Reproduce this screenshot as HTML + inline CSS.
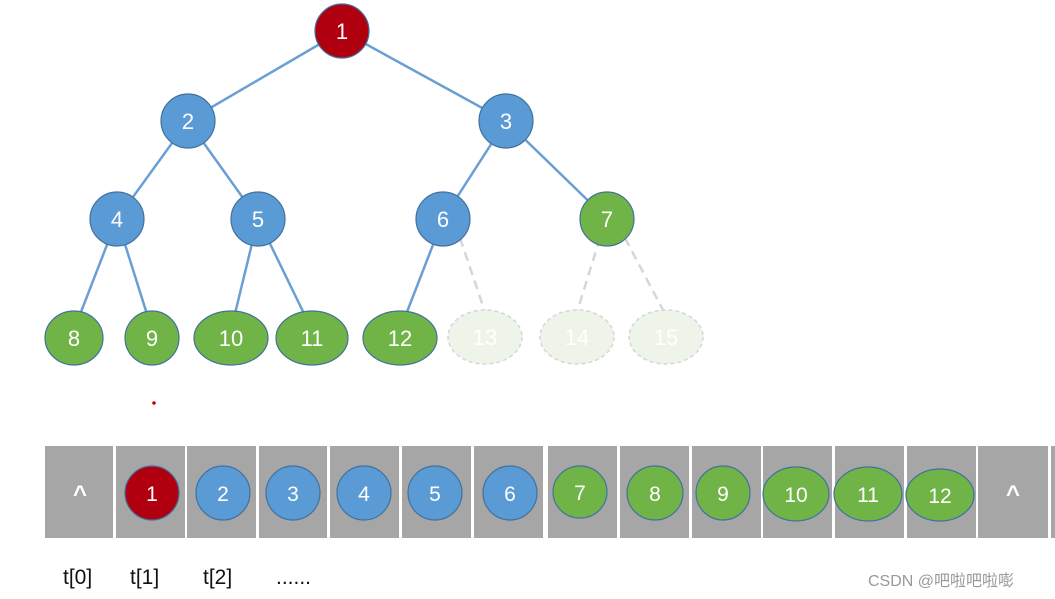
<!DOCTYPE html>
<html><head><meta charset="utf-8"><style>body{margin:0;background:#fff}svg{display:block}</style></head><body>
<svg width="1055" height="599" xmlns="http://www.w3.org/2000/svg" font-family="Liberation Sans, sans-serif">
<g stroke="#6a9fd3" stroke-width="2.5">
<line x1="342" y1="31" x2="188" y2="121"/><line x1="342" y1="31" x2="506" y2="121"/>
<line x1="188" y1="121" x2="117" y2="219"/><line x1="188" y1="121" x2="258" y2="219"/>
<line x1="506" y1="121" x2="443" y2="219"/><line x1="506" y1="121" x2="607" y2="219"/>
<line x1="117" y1="219" x2="74" y2="330"/><line x1="117" y1="219" x2="152" y2="330"/>
<line x1="258" y1="219" x2="231" y2="330"/><line x1="258" y1="219" x2="312" y2="330"/>
<line x1="443" y1="219" x2="400" y2="330"/>
</g>
<g stroke="#d3d6df" stroke-width="2.5" stroke-dasharray="9,6">
<line x1="460" y1="238" x2="485" y2="312"/><line x1="600" y1="238" x2="577" y2="312"/><line x1="625" y1="238" x2="664" y2="312"/>
</g>
<g stroke="#41719c" stroke-width="1.2" fill="#5b9bd5">
<circle cx="342" cy="31" r="27" fill="#b00010"/>
<circle cx="188" cy="121" r="27"/><circle cx="506" cy="121" r="27"/>
<circle cx="117" cy="219" r="27"/><circle cx="258" cy="219" r="27"/><circle cx="443" cy="219" r="27"/>
<circle cx="607" cy="219" r="27" fill="#70b447"/>
<g fill="#70b447"><ellipse cx="74" cy="338" rx="29" ry="27"/><ellipse cx="152" cy="338" rx="27" ry="27"/><ellipse cx="231" cy="338" rx="37" ry="27"/><ellipse cx="312" cy="338" rx="36" ry="27"/><ellipse cx="400" cy="338" rx="37" ry="27"/></g>
</g>
<g fill="#eef4e8" stroke="#d3d6df" stroke-width="1.5" stroke-dasharray="4,3">
<ellipse cx="485" cy="337" rx="37" ry="27"/><ellipse cx="577" cy="337" rx="37" ry="27"/><ellipse cx="666" cy="337" rx="37" ry="27"/>
</g>
<g fill="#fff" font-size="22" text-anchor="middle">
<text x="342" y="39">1</text><text x="188" y="129">2</text><text x="506" y="129">3</text>
<text x="117" y="227">4</text><text x="258" y="227">5</text><text x="443" y="227">6</text><text x="607" y="227">7</text>
<text x="74" y="346">8</text><text x="152" y="346">9</text><text x="231" y="346">10</text><text x="312" y="346">11</text><text x="400" y="346">12</text>
<text x="485" y="345">13</text><text x="577" y="345">14</text><text x="666" y="345">15</text>
</g>
<circle cx="154" cy="403" r="1.8" fill="#c00"/>
<g fill="#a6a6a6">
<rect x="45" y="446" width="68" height="92"/><rect x="116" y="446" width="69" height="92"/><rect x="187" y="446" width="69" height="92"/><rect x="259" y="446" width="68" height="92"/><rect x="330" y="446" width="69" height="92"/><rect x="402" y="446" width="69" height="92"/><rect x="474" y="446" width="69" height="92"/><rect x="548" y="446" width="69" height="92"/><rect x="620" y="446" width="69" height="92"/><rect x="692" y="446" width="69" height="92"/><rect x="763" y="446" width="69" height="92"/><rect x="835" y="446" width="69" height="92"/><rect x="907" y="446" width="69" height="92"/><rect x="978" y="446" width="70" height="92"/><rect x="1051" y="446" width="4" height="92"/>
</g>
<g stroke="#41719c" stroke-width="1.2" fill="#5b9bd5">
<circle cx="152" cy="493" r="27" fill="#b00010"/>
<circle cx="223" cy="493" r="27"/><circle cx="293" cy="493" r="27"/><circle cx="364" cy="493" r="27"/><circle cx="435" cy="493" r="27"/><circle cx="510" cy="493" r="27"/>
<g fill="#70b447"><ellipse cx="580" cy="492" rx="27" ry="26"/><ellipse cx="655" cy="493" rx="28" ry="27"/><ellipse cx="723" cy="493" rx="27" ry="27"/><ellipse cx="796" cy="494" rx="33" ry="27"/><ellipse cx="868" cy="494" rx="34" ry="27"/><ellipse cx="940" cy="495" rx="34" ry="26"/></g>
</g>
<g fill="#fff" font-size="21" text-anchor="middle">
<text x="80" y="502" font-weight="bold" font-size="24">^</text>
<text x="152" y="501">1</text><text x="223" y="501">2</text><text x="293" y="501">3</text><text x="364" y="501">4</text><text x="435" y="501">5</text><text x="510" y="501">6</text>
<text x="580" y="500">7</text><text x="655" y="501">8</text><text x="723" y="501">9</text><text x="796" y="502">10</text><text x="868" y="502">11</text><text x="940" y="503">12</text>
<text x="1013" y="502" font-weight="bold" font-size="24">^</text>
</g>
<g fill="#111" font-size="21">
<text x="63" y="584">t[0]</text><text x="130" y="584">t[1]</text><text x="203" y="584">t[2]</text><text x="276" y="584">......</text>
</g>
<text x="868" y="586" fill="#999" font-size="16" font-family="Liberation Sans, Noto Sans CJK SC, sans-serif">CSDN @吧啦吧啦嘭</text>
</svg>
</body></html>
